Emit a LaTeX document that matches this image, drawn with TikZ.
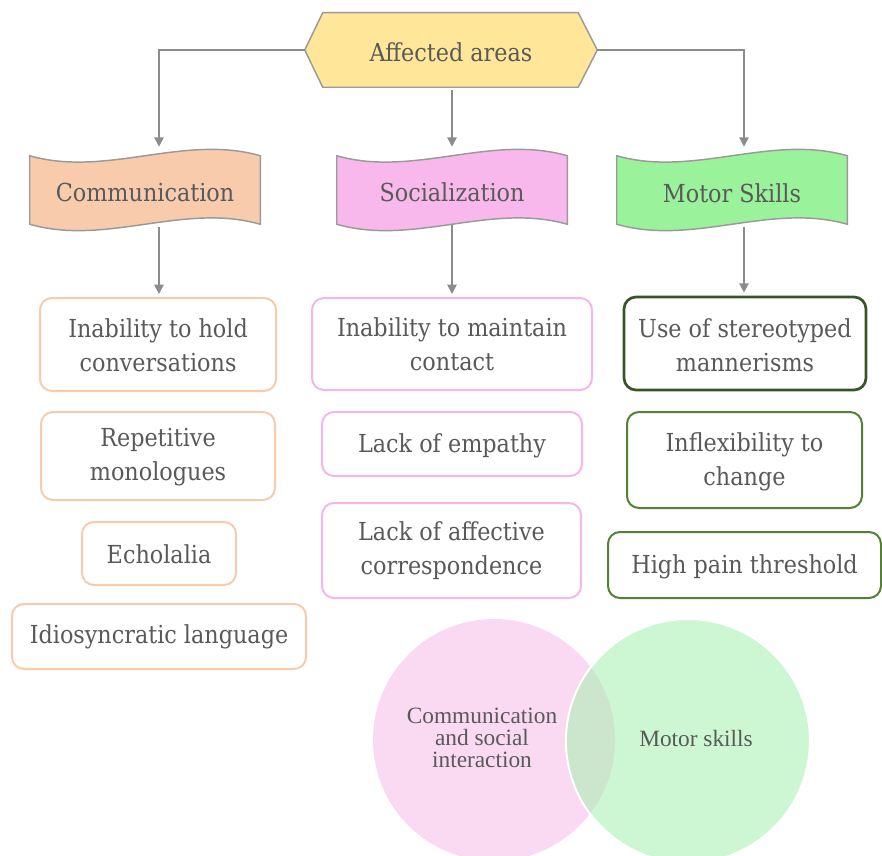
\documentclass[tikz,border=0pt]{standalone}
\usepackage{fontspec}
\setmainfont{DejaVu Serif Condensed}
\newfontfamily\vennfont{Liberation Serif}
\usetikzlibrary{arrows.meta,calc}
\pgfdeclarelayer{bg}
\pgfsetlayers{bg,main}
\definecolor{txt}{HTML}{595959}
\definecolor{lin}{HTML}{8C8C8C}
\definecolor{edge}{HTML}{9A9A9A}
\definecolor{hexfill}{HTML}{FFE699}
\definecolor{bcomm}{HTML}{F8CBAD}
\definecolor{bsoc}{HTML}{F8B8EC}
\definecolor{bmot}{HTML}{9AF29A}
\definecolor{kcomm}{HTML}{F8CBAD}
\definecolor{ksoc}{HTML}{F5B6EA}
\definecolor{kmotA}{HTML}{375623}
\definecolor{kmotB}{HTML}{548235}
\definecolor{vpink}{HTML}{FADAF2}
\definecolor{vgreen}{HTML}{CCF7D2}
\definecolor{vmix}{HTML}{CBE6CC}
\begin{document}
\begin{tikzpicture}[x=0.75pt,y=-0.75pt,
  every node/.style={text=txt, font=\fontsize{18.6}{25.5}\selectfont, align=center, inner sep=0pt},
  conn/.style={draw=lin, line width=1.1pt, -{Triangle[length=7pt,width=7pt]}},
  bannerbox/.style={rectangle, minimum width=172.5pt, minimum height=51pt},
  shapeline/.style={draw=edge, line width=1.1pt},
  itembox/.style={rectangle, rounded corners=9pt, fill=white, line width=1.5pt},
  vlabel/.style={font=\vennfont\fontsize{17.5}{16.5}\selectfont}
]
\useasboundingbox (0,0) rectangle (882,856);

% Venn diagram
\fill[vpink] (494,740) circle[radius=90.75pt];
\draw[white, line width=1.6pt, fill=vgreen] (688,741) circle[radius=91.5pt];
\begin{scope}
  \clip (494,740) circle[radius=90.75pt];
  \fill[vmix] (688,741) circle[radius=90.7pt];
\end{scope}
\node[vlabel] (v1) at (482,738) {Communication\\and social\\interaction};
\node[vlabel] (v2) at (696,739) {Motor skills};

% Top hexagon and banners (shapes)
\node[minimum width=219pt, minimum height=55.5pt] (aff) at (451,50) {};
\node[bannerbox] (comm) at (145,190) {};
\node[bannerbox] (soc) at (452,190) {};
\node[bannerbox] (mot) at (732,190) {};
% their texts
\node (afft) at (451,52) {Affected areas};
\node (commt) at (145,192.5) {Communication};
\node (soct) at (452,192.5) {Socialization};
\node (mott) at (732,193) {Motor Skills};

\begin{pgfonlayer}{bg}
\draw[shapeline, fill=hexfill] (aff.west) -- ($(aff.north west)+(18,0)$) -- ($(aff.north east)+(-19,0)$) -- (aff.east) -- ($(aff.south east)+(-19,0)$) -- ($(aff.south west)+(18,0)$) -- cycle;
\foreach \n/\c in {comm/bcomm, soc/bsoc, mot/bmot}{
  \draw[shapeline, fill=\c] (\n.north west) .. controls ($(\n.north west)+(76.7,22)$) and ($(\n.north east)+(-76.7,-22)$) .. (\n.north east)
    -- (\n.south east) .. controls ($(\n.south east)+(-76.7,-22)$) and ($(\n.south west)+(76.7,22)$) .. (\n.south west) -- cycle;
}
\end{pgfonlayer}

% Items
\node[itembox, draw=kcomm, minimum width=177pt, minimum height=69.75pt] (c1) at (158,344.5) {\rule{0pt}{15pt}Inability to hold\\conversations};
\node[itembox, draw=kcomm, minimum width=175.5pt, minimum height=66pt] (c2) at (158,456) {\rule{0pt}{15pt}Repetitive\\monologues};
\node[itembox, draw=kcomm, minimum width=115.5pt, minimum height=47.25pt] (c3) at (159,553.5) {\rule{0pt}{15pt}Echolalia};
\node[itembox, draw=kcomm, minimum width=220.5pt, minimum height=48.75pt] (c4) at (159,636.5) {\rule{0pt}{15pt}Idiosyncratic language};

\node[itembox, draw=ksoc, minimum width=210pt, minimum height=69pt] (s1) at (452,344) {\rule{0pt}{15pt}Inability to maintain\\contact};
\node[itembox, draw=ksoc, minimum width=195pt, minimum height=48pt] (s2) at (452,444) {\rule{0pt}{17pt}Lack of empathy};
\node[itembox, draw=ksoc, minimum width=194.25pt, minimum height=71.25pt] (s3) at (451.5,550.5) {\rule{0pt}{15pt}Lack of affective\\correspondence};

\node[itembox, draw=kmotA, line width=2pt, minimum width=181.5pt, minimum height=69.75pt] (m1) at (745,343.5) {\rule{0pt}{17pt}Use of stereotyped\\mannerisms};
\node[itembox, draw=kmotB, minimum width=176.25pt, minimum height=72pt] (m2) at (744.5,460) {\rule{0pt}{17pt}Inflexibility to\\change};
\node[itembox, draw=kmotB, minimum width=204.75pt, minimum height=49.5pt] (m3) at (744.5,565) {\rule{0pt}{17pt}High pain threshold};

% connectors
\draw[conn] (aff.west) -| ($(comm.north)+(14,-9)$);
\draw[conn] ($(aff.south)+(1,3)$) -- ($(soc.north)+(0,-9)$);
\draw[conn] (aff.east) -| ($(mot.north)+(12,-9)$);
\draw[conn] ($(comm.south)+(14,3)$) -- ($(c1.north)+(1,-3)$);
\draw[conn] ($(soc.south)+(0,1)$) -- ($(s1.north)+(0,-3)$);
\draw[conn] ($(mot.south)+(12,3)$) -- ($(m1.north)+(-1,-3)$);
\end{tikzpicture}
\end{document}
